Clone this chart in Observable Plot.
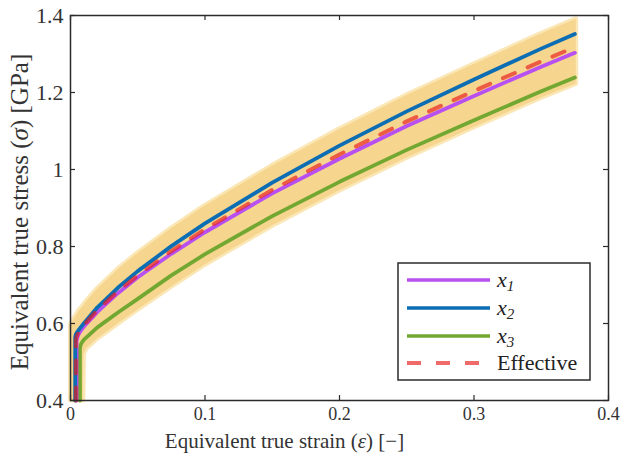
<!DOCTYPE html>
<html><head><meta charset="utf-8">
<script src="https://cdn.jsdelivr.net/npm/d3@7"></script>
<script src="https://cdn.jsdelivr.net/npm/@observablehq/plot@0.6"></script>
<style>
html,body{margin:0;padding:0;background:#fff;}
#wrap{position:relative;width:624px;height:461px;}
#wrap svg{display:block;}
</style></head><body><div id="wrap"></div>
<script>
// ---- data ----
const xTicks = [0, 0.1, 0.2, 0.3, 0.4];
const yTicks = [0.4, 0.6, 0.8, 1, 1.2, 1.4];
const xLabel = "Equivalent true strain (ε) [−]";
const yLabel = "Equivalent true stress (σ) [GPa]";

// shaded band (spread of samples)
const bandX  = [0.0003, 0.003, 0.006, 0.0095, 0.0100, 0.012, 0.02, 0.035, 0.05, 0.075, 0.1, 0.15, 0.2, 0.25, 0.3, 0.35, 0.376];
const bandHi = [0.595, 0.613, 0.630, 0.645, 0.647, 0.657, 0.689, 0.739, 0.782, 0.846, 0.905, 1.009, 1.104, 1.192, 1.273, 1.352, 1.390];
const bandLo = [0.4, 0.4, 0.4, 0.4, 0.52, 0.535, 0.56, 0.598, 0.635, 0.695, 0.752, 0.853, 0.945, 1.030, 1.109, 1.186, 1.222];

// curves
const x1Strain = [0.0045, 0.0045, 0.0052, 0.006, 0.008, 0.01, 0.02, 0.035, 0.05, 0.075, 0.1, 0.15, 0.2, 0.25, 0.3, 0.35, 0.375];
const x1Stress = [0.40, 0.555, 0.565, 0.572, 0.583, 0.592, 0.630, 0.678, 0.720, 0.781, 0.837, 0.938, 1.028, 1.113, 1.191, 1.267, 1.303];
const x2Strain = [0.0035, 0.0035, 0.0040, 0.005, 0.008, 0.01, 0.02, 0.035, 0.05, 0.075, 0.1, 0.15, 0.2, 0.25, 0.3, 0.35, 0.375];
const x2Stress = [0.40, 0.565, 0.572, 0.578, 0.592, 0.601, 0.642, 0.692, 0.736, 0.801, 0.860, 0.966, 1.062, 1.151, 1.234, 1.314, 1.352];
const x3Strain = [0.007, 0.007, 0.0076, 0.0085, 0.01, 0.02, 0.035, 0.05, 0.075, 0.1, 0.15, 0.2, 0.25, 0.3, 0.35, 0.375];
const x3Stress = [0.40, 0.535, 0.545, 0.551, 0.558, 0.590, 0.628, 0.664, 0.725, 0.780, 0.879, 0.968, 1.051, 1.128, 1.203, 1.239];
const effStrain = [0.004, 0.004, 0.0048, 0.006, 0.008, 0.01, 0.02, 0.035, 0.05, 0.075, 0.1, 0.15, 0.2, 0.25, 0.3, 0.35, 0.375];
const effStress = [0.40, 0.558, 0.568, 0.577, 0.587, 0.596, 0.635, 0.683, 0.725, 0.788, 0.845, 0.947, 1.039, 1.125, 1.204, 1.281, 1.318];

const seriesNames = ["x1", "x2", "x3", "Effective"];
const seriesColors = ["#b84ff0", "#0b6db3", "#72a831", "#e81a1a"];

// ---- layout ----
const W = 624, H = 461;
const mL = 70, mR = 16, mT = 15, mB = 61;
const innerW = W - mL - mR, innerH = H - mT - mB;
const axisColor = "#2b2b2b";
const tickLen = 5;
const serif = "'Liberation Serif', 'DejaVu Serif', serif";

const idx = a => a.map((_, i) => i);
const curve = (xs, ys, color, extra = {}) =>
  Plot.line(idx(xs), {x: i => xs[i], y: i => ys[i], stroke: color, strokeWidth: 3.8, strokeLinejoin: "round", ...extra});

const chart = Plot.plot({
  width: W, height: H,
  marginLeft: mL, marginRight: mR, marginTop: mT, marginBottom: mB,
  style: {fontFamily: serif, background: "white", color: "#333"},
  x: {domain: [0, 0.4]},
  y: {domain: [0.4, 1.4]},
  marks: [
    Plot.areaY(idx(bandX), {x: i => bandX[i], y1: i => bandLo[i], y2: i => bandHi[i], fill: "#fbe7b6", stroke: "#fbe7b6", strokeWidth: 5}),
    Plot.areaY(idx(bandX), {x: i => bandX[i], y1: i => bandLo[i], y2: i => bandHi[i], fill: "#f6d58e"}),
    curve(x3Strain, x3Stress, seriesColors[2]),
    curve(x1Strain, x1Stress, seriesColors[0]),
    curve(x2Strain, x2Stress, seriesColors[1]),
    curve(effStrain, effStress, seriesColors[3], {strokeWidth: 4, strokeOpacity: 0.65, strokeDasharray: "13,14", strokeLinejoin: "miter"}),
    Plot.frame({stroke: axisColor, strokeWidth: 1.5}),
    // inward ticks on all sides
    Plot.ruleX(xTicks, {x: d => d, insetTop: innerH - tickLen, stroke: axisColor, strokeWidth: 1.2}),
    Plot.ruleX(xTicks, {x: d => d, insetBottom: innerH - tickLen, stroke: axisColor, strokeWidth: 1.2}),
    Plot.ruleY(yTicks, {y: d => d, insetRight: innerW - tickLen, stroke: axisColor, strokeWidth: 1.2}),
    Plot.ruleY(yTicks, {y: d => d, insetLeft: innerW - tickLen, stroke: axisColor, strokeWidth: 1.2}),
    Plot.axisX(xTicks, {tickSize: 0, tickPadding: 7, tickFormat: d => String(d), fontSize: 18, fontFamily: serif, label: null, fill: "#333"}),
    Plot.axisY(yTicks, {tickSize: 0, tickPadding: 7, tickFormat: d => String(d), fontSize: 22, fontFamily: serif, label: null, fill: "#333"}),
    Plot.text([xLabel], {text: d => d, frameAnchor: "bottom", dx: -55, dy: 47, fontSize: 21, fontFamily: serif, fill: "#333", textAnchor: "middle"}),
    Plot.text([yLabel], {text: d => d, frameAnchor: "left", dx: -51, dy: 4, rotate: -90, fontSize: 25, fontFamily: serif, fill: "#333", textAnchor: "middle"})
  ]
});

const wrap = document.getElementById("wrap");
wrap.appendChild(chart);

// italicise greek symbols in axis labels
d3.select(chart).selectAll("text").each(function() {
  const t = this.textContent;
  if (t === xLabel || t === yLabel) {
    const sym = t === xLabel ? "ε" : "σ";
    const parts = t.split(sym);
    const sel = d3.select(this);
    sel.text(null);
    sel.append("tspan").text(parts[0]);
    sel.append("tspan").attr("font-style", "italic").text(sym);
    sel.append("tspan").text(parts[1]);
  }
});

// ---- legend (HTML overlay with SVG swatches) ----
const lg = d3.select(wrap).append("svg")
  .attr("width", 194).attr("height", 119)
  .style("position", "absolute").style("left", "397px").style("top", "262px");
lg.append("rect").attr("x", 1).attr("y", 1).attr("width", 192).attr("height", 117)
  .attr("fill", "white").attr("stroke", axisColor).attr("stroke-width", 1.5);
const rowY = [18, 46, 74, 101];
seriesNames.forEach((name, i) => {
  const g = lg.append("g").attr("transform", `translate(0,${rowY[i]})`);
  const ln = g.append("line").attr("x1", 10).attr("x2", 93).attr("y1", 0).attr("y2", 0)
    .attr("stroke", seriesColors[i]).attr("stroke-width", i === 3 ? 4 : 3.6);
  if (i === 3) ln.attr("stroke-dasharray", "14,15").attr("stroke-opacity", 0.65);
  const tx = g.append("text").attr("x", 100).attr("y", 7)
    .style("font-family", serif).style("font-size", "22px").attr("fill", "#222");
  if (i < 3) {
    tx.append("tspan").attr("font-style", "italic").text("x");
    tx.append("tspan").attr("font-style", "italic").attr("font-size", "15px").attr("dy", 4).text(String(i + 1));
  } else {
    tx.text(name);
  }
});
</script></body></html>
